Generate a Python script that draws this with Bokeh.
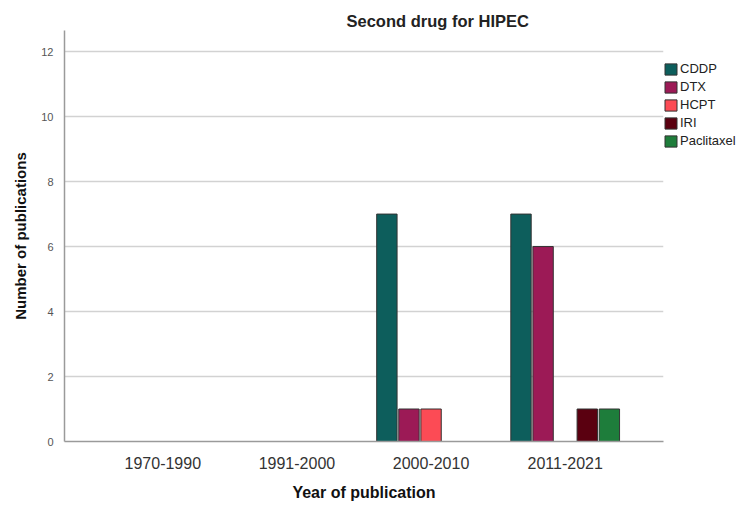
from bokeh.plotting import figure
from bokeh.models import (ColumnDataSource, FactorRange, Range1d, FixedTicker,
                          Legend, LegendItem)
from bokeh.transform import dodge
from bokeh.embed import file_html
from bokeh.resources import INLINE

years = ["1970-1990", "1991-2000", "2000-2010", "2011-2021"]
drugs = ["CDDP", "DTX", "HCPT", "IRI", "Paclitaxel"]
cddp = [0, 0, 7, 7]
dtx = [0, 0, 1, 6]
hcpt = [0, 0, 1, 0]
iri = [0, 0, 0, 1]
paclitaxel = [0, 0, 0, 1]
colors = ["#0d5e5c", "#9c1a56", "#fc4b55", "#5a0010", "#1e7d3b"]
y_ticks = [0, 2, 4, 6, 8, 10, 12]

series = [cddp, dtx, hcpt, iri, paclitaxel]
FONT = "Liberation Sans"

p = figure(x_range=FactorRange(factors=years, range_padding=0.233,
                               range_padding_units="absolute"),
           y_range=Range1d(0, 12.65),
           frame_width=599, frame_height=411,
           min_border_left=64, min_border_top=30, min_border_right=0,
           min_border_bottom=0,
           output_backend="svg", toolbar_location=None)

p.title.text = "Second drug for HIPEC"
p.title.align = "left"
p.title.offset = 282
p.title.text_font = FONT
p.title.text_font_size = "16.5px"
p.title.text_font_style = "bold"
p.title.text_color = "#222222"
p.title.standoff = 2

slot = 0.1647
bw = 0.152
items = []
for i, (name, vals) in enumerate(zip(drugs, series)):
    xs = [y for y, v in zip(years, vals) if v > 0]
    vs = [v for v in vals if v > 0]
    src = ColumnDataSource(dict(x=xs, top=vs))
    r = p.vbar(x=dodge("x", (i - 2) * slot, range=p.x_range), top="top",
               width=bw, source=src, fill_color=colors[i],
               line_color="#333333", line_width=1)
    items.append(LegendItem(label=name, renderers=[r]))

legend = Legend(items=items, location=(0, 293),
                glyph_width=15, glyph_height=14, label_height=14,
                label_standoff=2, spacing=3, padding=2, margin=0,
                label_text_font=FONT, label_text_font_size="13px",
                label_text_color="#222222",
                border_line_color=None, background_fill_alpha=0)
p.add_layout(legend, "right")

p.outline_line_color = None
p.xgrid.grid_line_color = None
p.ygrid.grid_line_color = "#d2d2d2"
p.ygrid.grid_line_width = 1.5

p.yaxis.ticker = FixedTicker(ticks=y_ticks)
p.yaxis.major_tick_line_color = None
p.yaxis.minor_tick_line_color = None
p.yaxis.axis_line_color = "#9a9a9a"
p.yaxis.axis_line_width = 1.5
p.yaxis.major_label_standoff = 5
p.yaxis.major_label_text_font = FONT
p.yaxis.major_label_text_font_size = "11px"
p.yaxis.major_label_text_color = "#555555"
p.yaxis.axis_label = "Number of publications"
p.yaxis.axis_label_text_font = FONT
p.yaxis.axis_label_text_font_size = "15px"
p.yaxis.axis_label_text_font_style = "bold"
p.yaxis.axis_label_text_color = "#111111"
p.yaxis.axis_label_standoff = 9

p.xaxis.major_tick_line_color = None
p.xaxis.minor_tick_line_color = None
p.xaxis.axis_line_color = "#9a9a9a"
p.xaxis.axis_line_width = 1.5
p.xaxis.major_label_standoff = 9
p.xaxis.major_label_text_font = FONT
p.xaxis.major_label_text_font_size = "16px"
p.xaxis.major_label_text_color = "#333333"
p.xaxis.axis_label = "Year of publication"
p.xaxis.axis_label_text_font = FONT
p.xaxis.axis_label_text_font_size = "16px"
p.xaxis.axis_label_text_font_style = "bold"
p.xaxis.axis_label_text_color = "#111111"
p.xaxis.axis_label_standoff = 12

open("out.html", "w").write(file_html(p, INLINE))
